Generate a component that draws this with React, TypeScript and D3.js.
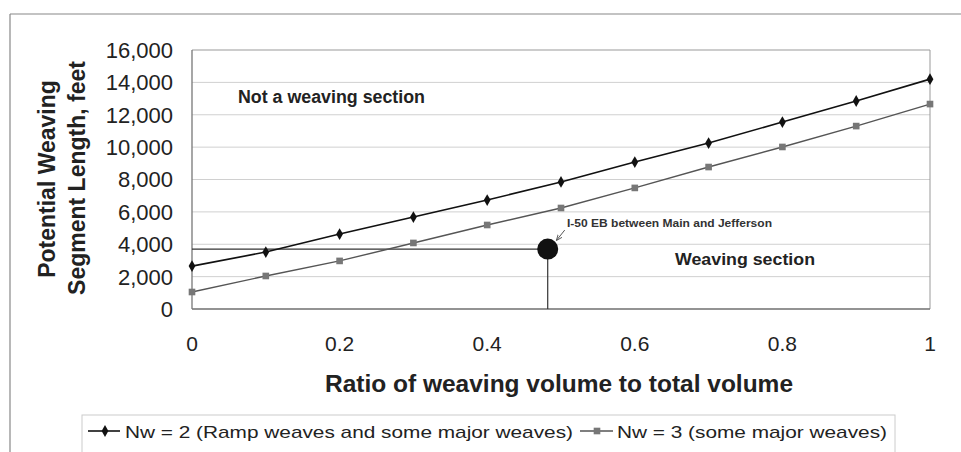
import React from "react";
import * as d3 from "d3";

const ratios = [0, 0.1, 0.2, 0.3, 0.4, 0.5, 0.6, 0.7, 0.8, 0.9, 1.0];
const nw2 = [2650, 3520, 4630, 5680, 6730, 7850, 9080, 10250, 11550, 12850, 14200];
const nw3 = [1050, 2040, 2970, 4080, 5190, 6240, 7480, 8770, 10010, 11300, 12660];
const xTicks = [0, 0.2, 0.4, 0.6, 0.8, 1];
const yTicks = [0, 2000, 4000, 6000, 8000, 10000, 12000, 14000, 16000];
const pointX = 0.482;
const pointY = 3700;
const seriesNames = ["Nw = 2 (Ramp weaves and some major weaves)", "Nw = 3 (some major weaves)"];

const W = 961;
const H = 452;
const M = { left: 192, right: 930, top: 50, bottom: 309 };
const FONT = "'Liberation Sans', Arial, Helvetica, sans-serif";

export default function App() {
  const x = d3.scaleLinear().domain([0, 1]).range([M.left, M.right]);
  const y = d3.scaleLinear().domain([0, 16000]).range([M.bottom, M.top]);
  const line = d3
    .line<number>()
    .x((_, i) => x(ratios[i]))
    .y((d) => y(d));
  const diamond = d3.symbol().type(d3.symbolDiamond).size(40)() as string;
  const square = d3.symbol().type(d3.symbolSquare).size(44)() as string;
  const fmt = d3.format(",");

  const px = x(pointX);
  const py = y(pointY);

  return (
    <svg width={W} height={H} style={{ position: "absolute", left: 0, top: 0, background: "#fff" }}>
      <defs>
        <marker id="ah" viewBox="0 0 10 10" refX="9" refY="5" markerWidth="6" markerHeight="6" orient="auto">
          <path d="M0,1 L10,5 L0,9" fill="none" stroke="#555" strokeWidth={1.5} />
        </marker>
      </defs>
      <rect x={0} y={0} width={W} height={H} fill="#fff" />
      {/* outer frame */}
      <line x1={10} y1={14} x2={W} y2={14} stroke="#888" strokeWidth={1.2} />
      <line x1={10} y1={14} x2={10} y2={H} stroke="#888" strokeWidth={1.2} />

      {/* gridlines */}
      {yTicks.map((t) => (
        <line key={t} x1={M.left} x2={M.right} y1={y(t)} y2={y(t)} stroke={t === 16000 ? "#999" : "#d0d0d0"} strokeWidth={1} />
      ))}
      <line x1={M.right} x2={M.right} y1={M.top} y2={M.bottom} stroke="#999" />
      <line x1={M.left} x2={M.left} y1={M.top} y2={M.bottom} stroke="#777" strokeWidth={1.3} />
      <line x1={M.left} x2={M.right} y1={M.bottom} y2={M.bottom} stroke="#777" strokeWidth={1.3} />

      {/* y tick labels */}
      {yTicks.map((t) => (
        <text key={t} x={173} y={y(t)} dy="0.36em" textAnchor="end" fontFamily={FONT} fontSize={22} fill="#222">
          {fmt(t)}
        </text>
      ))}
      {/* x tick labels */}
      {xTicks.map((t) => (
        <text key={t} x={x(t)} y={351} textAnchor="middle" fontFamily={FONT} fontSize={21} fill="#222">
          {String(t)}
        </text>
      ))}

      {/* axis titles */}
      <g transform="translate(55,179) rotate(-90)">
        <text x={0} y={0} textAnchor="middle" fontFamily={FONT} fontSize={23} fontWeight="bold" fill="#222">
          Potential Weaving
        </text>
      </g>
      <g transform="translate(85,178) rotate(-90)">
        <text x={0} y={0} textAnchor="middle" fontFamily={FONT} fontSize={23} fontWeight="bold" fill="#222">
          Segment Length, feet
        </text>
      </g>
      <text x={325} y={392} textLength={468} lengthAdjust="spacingAndGlyphs" fontFamily={FONT} fontSize={23} fontWeight="bold" fill="#222">
        Ratio of weaving volume to total volume
      </text>

      {/* reference lines to point */}
      <line x1={M.left} x2={px} y1={py} y2={py} stroke="#333" strokeWidth={1.2} />
      <line x1={px} x2={px} y1={py} y2={M.bottom} stroke="#333" strokeWidth={1.2} />

      {/* series */}
      <path d={line(nw2) as string} fill="none" stroke="#111" strokeWidth={1.6} />
      <path d={line(nw3) as string} fill="none" stroke="#555" strokeWidth={1.4} />
      {nw2.map((v, i) => (
        <path key={"a" + i} d={diamond} transform={`translate(${x(ratios[i])},${y(v)})`} fill="#111" />
      ))}
      {nw3.map((v, i) => (
        <path key={"b" + i} d={square} transform={`translate(${x(ratios[i])},${y(v)})`} fill="#777" />
      ))}

      {/* point */}
      <circle cx={px} cy={py} r={10.5} fill="#111" />
      <line x1={px + 17} y1={py - 19} x2={px + 9} y2={py - 9} stroke="#555" strokeWidth={1} markerEnd="url(#ah)" />
      <text x={567} y={227} textLength={205} lengthAdjust="spacingAndGlyphs" fontFamily={FONT} fontSize={10.5} fontWeight="bold" fill="#333">
        I-50 EB between Main and Jefferson
      </text>

      {/* region labels */}
      <text x={238} y={103} textLength={187} lengthAdjust="spacingAndGlyphs" fontFamily={FONT} fontSize={17.5} fontWeight="bold" fill="#222">
        Not a weaving section
      </text>
      <text x={675} y={265} textLength={140} lengthAdjust="spacingAndGlyphs" fontFamily={FONT} fontSize={17} fontWeight="bold" fill="#222">
        Weaving section
      </text>

      {/* legend */}
      <rect x={82} y={415} width={813} height={50} fill="none" stroke="#ccc" />
      <line x1={88} x2={120} y1={431} y2={431} stroke="#111" strokeWidth={1.6} />
      <path d={diamond} transform="translate(105,431)" fill="#111" />
      <text x={125} y={438} textLength={448} lengthAdjust="spacingAndGlyphs" fontFamily={FONT} fontSize={17} fill="#222">
        {seriesNames[0]}
      </text>
      <line x1={580} x2={613} y1={431} y2={431} stroke="#555" strokeWidth={1.4} />
      <path d={square} transform="translate(597,431)" fill="#777" />
      <text x={617} y={438} textLength={270} lengthAdjust="spacingAndGlyphs" fontFamily={FONT} fontSize={17} fill="#222">
        {seriesNames[1]}
      </text>
    </svg>
  );
}
